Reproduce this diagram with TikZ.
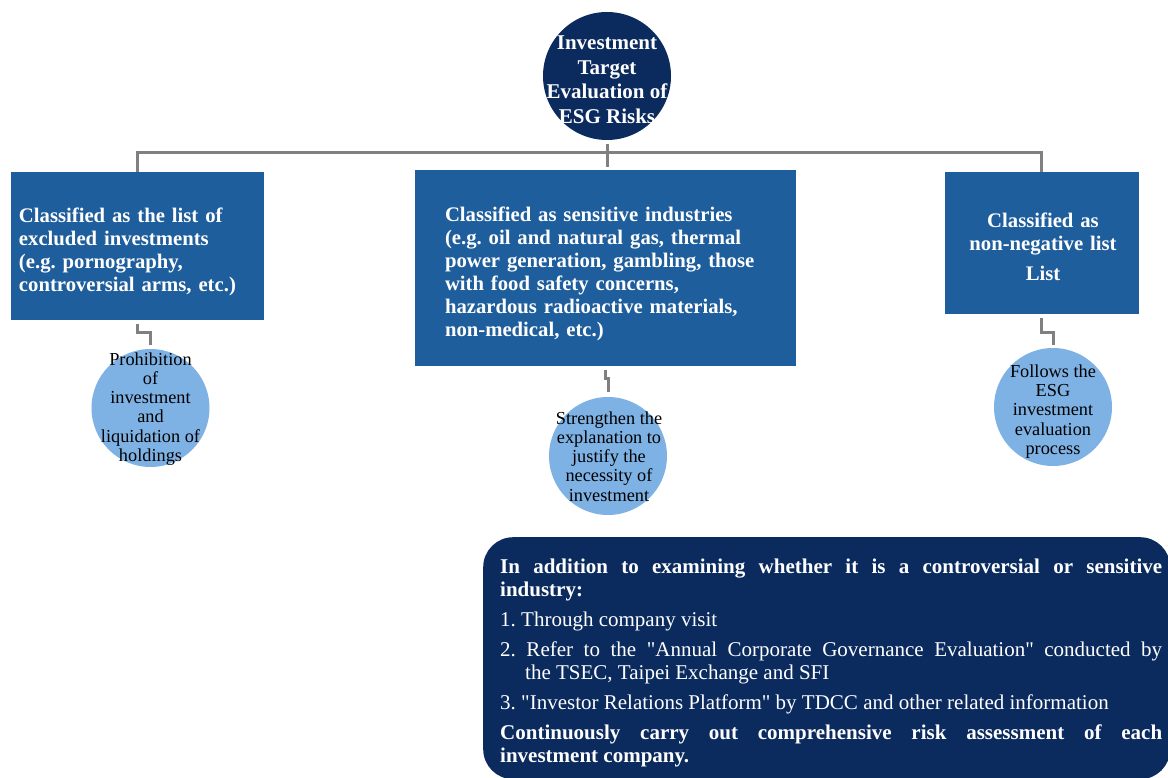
\documentclass[tikz,border=0pt]{standalone}
\usepackage{fontspec}
\setmainfont{Liberation Serif}
\frenchspacing
\definecolor{navy}{HTML}{0B2B5F}
\definecolor{boxblue}{HTML}{1F5E9D}
\definecolor{lightblue}{HTML}{7FB2E4}
\definecolor{conn}{HTML}{808080}
\begin{document}
\begin{tikzpicture}[x=1pt,y=-1pt,
  catbox/.style={fill=boxblue, draw=none, text=white, font=\bfseries\fontsize{20.7}{23}\selectfont, inner sep=0pt},
  outcome/.style={circle, fill=lightblue, draw=none, minimum size=118pt, inner sep=0pt},
  outtext/.style={align=center, font=\fontsize{18.3}{19.2}\selectfont, text=black, inner sep=0pt},
  link/.style={draw=conn, line width=3pt}]
\useasboundingbox (0,0) rectangle (1168,778);

% top circle
\node[circle, fill=navy, minimum size=128pt, inner sep=0pt] (top) at (607,76) {};
\node[align=center, text=white, inner sep=0pt, font=\bfseries\fontsize{21}{24.5}\selectfont] (toptext) at (607,79.5) {Investment\\Target\\Evaluation of\\ESG Risks};

% category boxes
\node[catbox, minimum width=253pt, minimum height=148pt, text width=237pt, align=left] (b1) at (137.5,246) {};
\node[catbox, text width=237pt, align=left, fill=none] (b1text) at (137.5,252)
  {Classified as the list of\\excluded investments\\(e.g. pornography,\\controversial arms, etc.)};
\node[catbox, minimum width=381pt, minimum height=196pt] (b2) at (605.5,268) {};
\node[catbox, text width=321pt, align=left, fill=none] (b2text) at (605.5,274)
  {Classified as sensitive industries\\(e.g. oil and natural gas, thermal\\power generation, gambling, those\\with food safety concerns,\\hazardous radioactive materials,\\non-medical, etc.)};
\node[catbox, minimum width=194pt, minimum height=142pt] (b3) at (1041.5,243) {};
\node[catbox, text width=185pt, align=center, fill=none] (b3text) at (1043,246.5)
  {Classified as\\non-negative list\\[7pt]List};

% outcome circles
\node[outcome] (c1) at (150.5,408) {};
\node[outtext] (c1text) at (150.5,409) {Prohibition\\of\\investment\\and\\liquidation of\\holdings};
\node[outcome] (c2) at (608,456) {};
\node[outtext] (c2text) at (609,456.5) {Strengthen the\\explanation to\\justify the\\necessity of\\investment};
\node[outcome] (c3) at (1053,407) {};
\node[outtext] (c3text) at (1053,411.5) {Follows the\\ESG\\investment\\evaluation\\process};

% connectors
\coordinate (bus) at (607,153);
\draw[link, shorten <=4pt, shorten >=3pt] (top.south) -- (top.south |- b2.north);
\draw[link] (b1.north) |- (bus) -| (b3.north);
\draw[link, shorten <=4pt, shorten >=4pt] (b1.south) -- ++(0,12) -| (c1.north);
\draw[link, shorten <=4pt, shorten >=5pt] (b2.south) -- ++(0,12) -| (c2.north);
\draw[link, shorten <=4pt, shorten >=3pt] (b3.south) -- ++(0,18) -| (c3.north);

% note box
\node[fill=navy, draw=none, rounded corners=30pt, minimum width=687pt, minimum height=242pt, anchor=north west, inner sep=0pt] (note) at (483,537) {};
\node[anchor=north west, text width=662pt, align=justify, text=white, inner sep=0pt, font=\fontsize{21}{23}\selectfont] (notetext) at (500,559)
{\parindent=0pt\parskip=7pt
{\bfseries In addition to examining whether it is a controversial or sensitive\linebreak industry:}\par
1. Through company visit\par
\hangindent=25pt\hangafter=1 2. Refer to the \textquotedbl Annual Corporate Governance Evaluation\textquotedbl\ conducted by\linebreak the TSEC, Taipei Exchange and SFI\par
3. \textquotedbl Investor Relations Platform\textquotedbl\ by TDCC and other related information\par
{\bfseries Continuously carry out comprehensive risk assessment of each\linebreak investment company.}\par};
\end{tikzpicture}
\end{document}
